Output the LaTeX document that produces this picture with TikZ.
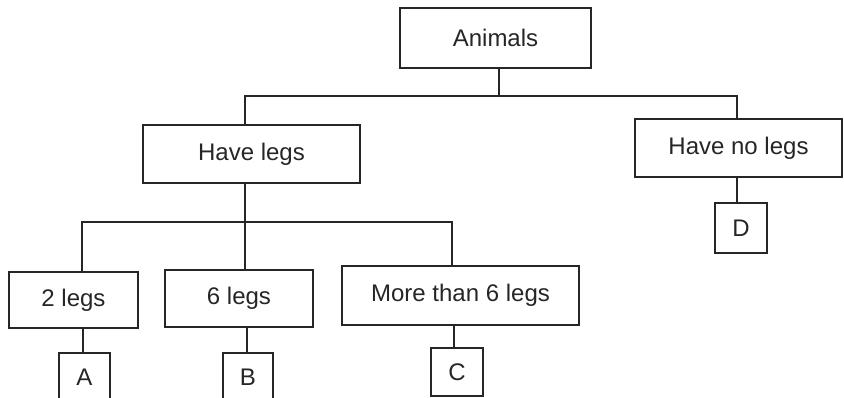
\documentclass[tikz,border=0pt]{standalone}
\usepackage{fontspec}
\setmainfont{Liberation Sans}
\begin{document}
\begin{tikzpicture}[x=1pt,y=-1pt,
  box/.style={draw=black!85,line width=1.6pt,rectangle,inner sep=0pt,
    font=\fontsize{24}{28}\selectfont,text=black!85},
  link/.style={draw=black!85,line width=1.6pt}]
\useasboundingbox (0,0) rectangle (844,398);
\clip (0,0) rectangle (844,398);
\node[box,minimum width=191pt,minimum height=60pt] (animals) at (495.5,38) {Animals};
\node[box,minimum width=217pt,minimum height=58pt] (legs) at (251.5,154) {Have legs};
\node[box,minimum width=207pt,minimum height=58pt] (nolegs) at (738.5,148) {Have no legs};
\node[box,minimum width=52pt,minimum height=50pt] (D) at (741,228) {D};
\node[box,minimum width=129pt,minimum height=56pt] (two) at (73.5,300) {2 legs};
\node[box,minimum width=148pt,minimum height=57pt] (six) at (239,298.5) {6 legs};
\node[box,minimum width=237pt,minimum height=59pt] (more) at (460.5,295.5) {More than 6 legs};
\node[box,minimum width=51pt,minimum height=48pt] (A) at (84.5,377) {A};
\node[box,minimum width=50pt,minimum height=48pt] (B) at (248,377) {B};
\node[box,minimum width=52pt,minimum height=48pt] (C) at (457,372) {C};
% level 1
\coordinate (bus1) at (499,96);
\coordinate (bus2) at (245,222);
\draw[link] ([xshift=3.5pt]animals.south) -- (bus1);
\draw[link] ([xshift=-6.5pt]legs.north) |- (bus1) -| ([xshift=-1.5pt]nolegs.north);
\draw[link] ([xshift=-1.5pt]nolegs.south) -- ([xshift=-4pt]D.north);
% level 2
\draw[link] ([xshift=-6.5pt]legs.south) -- (bus2);
\draw[link] ([xshift=8.5pt]two.north) |- (bus2) -| ([xshift=-8.5pt]more.north);
\draw[link] ([xshift=6pt]six.north) -- (bus2);
\draw[link] ([xshift=9.5pt]two.south) -- ([xshift=-1.5pt]A.north);
\draw[link] ([xshift=8pt]six.south) -- ([xshift=-1pt]B.north);
\draw[link] ([xshift=-6.5pt]more.south) -- ([xshift=-3pt]C.north);
\end{tikzpicture}
\end{document}
